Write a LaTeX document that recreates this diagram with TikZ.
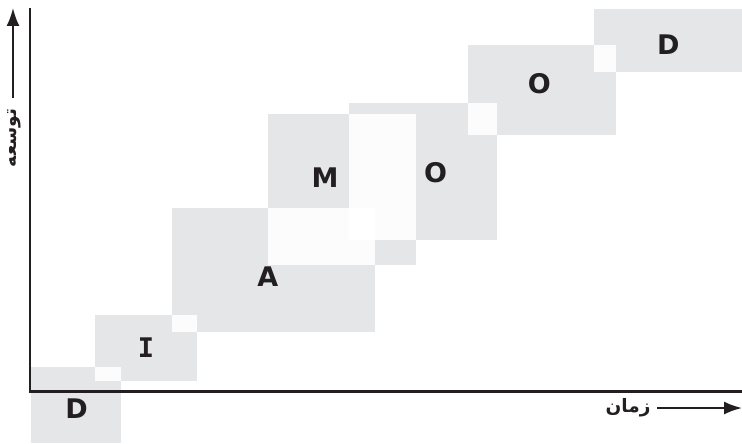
\documentclass[tikz,border=0pt]{standalone}
\usepackage{fontspec}
\setmainfont{DejaVu Sans}
\newfontfamily\arabicfont[Script=Arabic]{DejaVu Sans}
\newfontfamily\monofam{DejaVu Sans Mono}
\TeXXeTstate=1
\usetikzlibrary{arrows.meta}
\definecolor{boxgray}{HTML}{E5E6E8}
\definecolor{lapgray}{HTML}{FCFCFC}
\definecolor{inkc}{HTML}{231F20}
\begin{document}
\begin{tikzpicture}[x=1pt,y=-1pt,
  phase/.style={fill=boxgray},
  lap/.style={fill=lapgray},
  letter/.style={font=\fontsize{27}{30}\selectfont\bfseries, text=inkc, inner sep=0pt},
  axislabel/.style={font=\arabicfont\fontsize{18.5}{20}\selectfont\bfseries, text=inkc, inner sep=0pt},
  axisline/.style={draw=inkc, line width=2.5pt},
  dirarrow/.style={draw=inkc, line width=2pt, -{Latex[length=18pt,width=13pt]}}]
\useasboundingbox (0,0) rectangle (742,444);
% phase boxes
\fill[phase] (31,367) rectangle (120.7,443);    % D1
\fill[phase] (95,315) rectangle (196.7,380.7);  % I
\fill[phase] (172.3,208) rectangle (375,331.7); % A
\fill[phase] (268,114) rectangle (416,265);     % M
\fill[phase] (349,103) rectangle (496.7,240);   % O1
\fill[phase] (468.3,45) rectangle (615.7,135);  % O2
\fill[phase] (594,9) rectangle (742,71.7);      % D2
% overlaps
\fill[lap] (95,367) rectangle (120.7,380.7);
\fill[lap] (172.3,315) rectangle (196.7,331.7);
\fill[lap] (268,208) rectangle (375,265);
\fill[lap] (349,114) rectangle (416,240);
\fill[lap] (468.3,103) rectangle (496.7,135);
\fill[lap] (594,45) rectangle (615.7,71.7);
\fill[white] (349,208) rectangle (375,240);
% axes
\coordinate (ytop) at (30,8);
\coordinate (origin) at (30,391.5);
\coordinate (xend) at (742,391.5);
\draw[axisline] (ytop) -- (origin) -- (xend);
% letters
\node[letter] (d1) at (76.7,409) {D};
\node[letter, font=\monofam\fontsize{27}{30}\selectfont\bfseries] (i) at (146,347.7) {I};
\node[letter] (a) at (267.7,276.7) {A};
\node[letter] (m) at (325,178) {M};
\node[letter] (o1) at (435.7,172.3) {O};
\node[letter] (o2) at (539.3,84) {O};
\node[letter] (d2) at (668.3,44.3) {D};
% axis labels and arrows
\node[axislabel, rotate=90] (ylab) at (14,138) {\beginR توسعه\endR};
\node[axislabel] (xlab) at (628,408) {\beginR زمان\endR};
\coordinate (ystart) at (13,98);
\coordinate (ytip) at (13,8);
\coordinate (xstart) at (657,408);
\coordinate (xtip) at (742,408);
\draw[dirarrow] (ystart) -- (ytip);
\draw[dirarrow] (xstart) -- (xtip);
\end{tikzpicture}
\end{document}
